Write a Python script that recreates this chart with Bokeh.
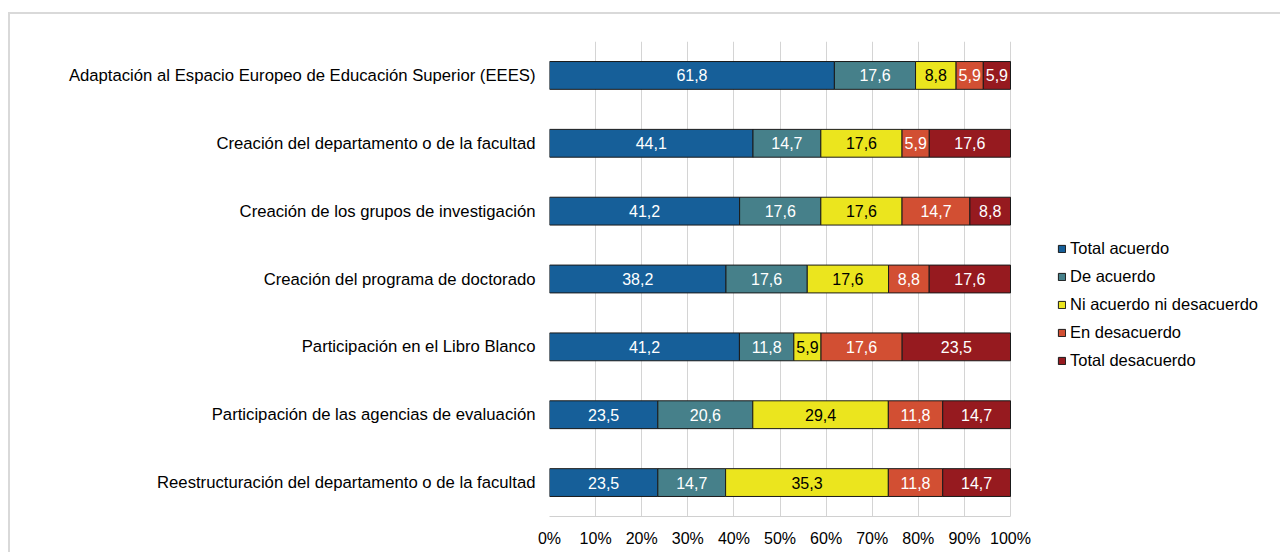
from bokeh.plotting import figure
from bokeh.models import (ColumnDataSource, FactorRange, FixedTicker, PrintfTickFormatter, Legend,
                          LegendItem, Range1d)
from bokeh.core.properties import value
from bokeh.embed import file_html
from bokeh.resources import INLINE

categories = [
    "Adaptación al Espacio Europeo de Educación Superior (EEES)",
    "Creación del departamento o de la facultad",
    "Creación de los grupos de investigación",
    "Creación del programa de doctorado",
    "Participación en el Libro Blanco",
    "Participación de las agencias de evaluación",
    "Reestructuración del departamento o de la facultad",
]
series_names = ["Total acuerdo", "De acuerdo", "Ni acuerdo ni desacuerdo", "En desacuerdo", "Total desacuerdo"]
total_acuerdo = [61.8, 44.1, 41.2, 38.2, 41.2, 23.5, 23.5]
de_acuerdo = [17.6, 14.7, 17.6, 17.6, 11.8, 20.6, 14.7]
ni_acuerdo = [8.8, 17.6, 17.6, 17.6, 5.9, 29.4, 35.3]
en_desacuerdo = [5.9, 5.9, 14.7, 8.8, 17.6, 11.8, 11.8]
total_desacuerdo = [5.9, 17.6, 8.8, 17.6, 23.5, 14.7, 14.7]
x_ticks = [0, 10, 20, 30, 40, 50, 60, 70, 80, 90, 100]

colors = ["#165F99", "#46808A", "#EBE51E", "#D24F33", "#961A1F"]
label_colors = ["white", "white", "black", "white", "white"]
series = [total_acuerdo, de_acuerdo, ni_acuerdo, en_desacuerdo, total_desacuerdo]

FONT = "Liberation Sans"

W, H = 1272, 540
B_LEFT, B_RIGHT = 539, 4
BAR_AREA_W = 461  # pixels spanned by 0..100 %
frame_w = W - B_LEFT - B_RIGHT
x_end = 100.0 * frame_w / BAR_AREA_W

p = figure(
    width=W, height=H,
    y_range=FactorRange(*reversed(categories), range_padding=0),
    x_range=Range1d(0, x_end),
    output_backend="svg", toolbar_location=None,
    min_border_left=B_LEFT, min_border_right=B_RIGHT, min_border_top=27, min_border_bottom=38,
)
p.margin = (12, 0, 0, 8)
p.styles = {"border-top": "2px solid #d9d9d9", "border-left": "2px solid #d9d9d9"}
p.outline_line_color = None
p.background_fill_color = "white"
p.border_fill_color = "white"

totals = [sum(s[i] for s in series) for i in range(len(categories))]
cum = [0.0] * len(categories)
renderers = []
for k, s in enumerate(series):
    left = [cum[i] / totals[i] * 100 for i in range(len(categories))]
    right = [(cum[i] + s[i]) / totals[i] * 100 for i in range(len(categories))]
    cum = [cum[i] + s[i] for i in range(len(categories))]
    src = ColumnDataSource(dict(
        y=categories, left=left, right=right,
        mid=[(l + r) / 2 for l, r in zip(left, right)],
        lab=[f"{v:.1f}".replace(".", ",") for v in s],
    ))
    r = p.hbar(y="y", left="left", right="right", height=0.41, source=src,
               fill_color=colors[k], line_color="#1a1a1a", line_width=1)
    renderers.append(r)
    p.text(x="mid", y="y", text="lab", source=src, text_align="center", text_baseline="middle",
           text_color=label_colors[k], text_font=value(FONT), text_font_size="16px")

p.xgrid.ticker = FixedTicker(ticks=x_ticks)
p.xgrid.grid_line_color = "#d4d4d4"
p.xgrid.grid_line_width = 1
p.ygrid.grid_line_color = None

p.xaxis.ticker = FixedTicker(ticks=x_ticks)
p.xaxis.bounds = (x_ticks[0], x_ticks[-1])
p.xaxis.formatter = PrintfTickFormatter(format="%d%%")
p.xaxis.axis_line_color = "#d0d0d0"
p.xaxis.axis_line_width = 1
p.xaxis.major_tick_line_color = None
p.xaxis.minor_tick_line_color = None
p.xaxis.major_label_standoff = 7
p.xaxis.major_label_text_font = FONT
p.xaxis.major_label_text_font_size = "16px"
p.xaxis.major_label_text_color = "black"

p.yaxis.axis_line_color = None
p.yaxis.major_tick_line_color = None
p.yaxis.minor_tick_line_color = None
p.yaxis.major_label_standoff = 8
p.yaxis.major_label_text_font = FONT
p.yaxis.major_label_text_font_size = "16.7px"
p.yaxis.major_label_text_color = "black"

legend = Legend(
    items=[LegendItem(label=n, renderers=[r]) for n, r in zip(series_names, renderers)],
    location=(508, 146), padding=0, margin=0, spacing=8,
    glyph_width=9, glyph_height=9, label_height=20, label_standoff=4,
    label_text_font=FONT, label_text_font_size="16.5px", label_text_color="black",
    border_line_color=None, background_fill_alpha=0,
)
p.add_layout(legend, "center")

open("out.html", "w").write(file_html(p, INLINE))
